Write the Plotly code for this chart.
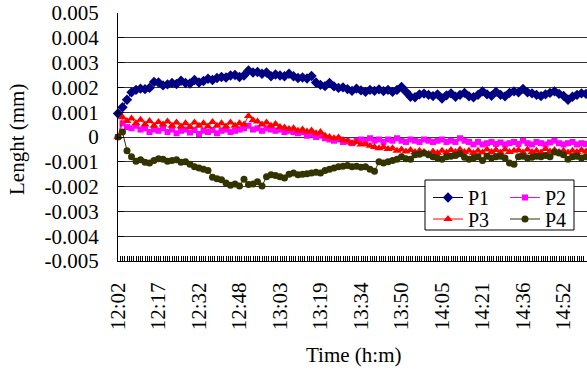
import plotly.graph_objects as go

# ---------------- data (values in 0.001 mm) ----------------
time_labels = ["12:02", "12:17", "12:32", "12:48", "13:03", "13:19",
               "13:34", "13:50", "14:05", "14:21", "14:36", "14:52"]
samples_per_label = 18      # readings between two labelled times
sample_step = 2             # every 2nd reading is plotted

p1_um = [0.95, 1.2, 1.5, 1.8, 1.9, 1.95, 1.93, 1.98, 2.22, 2.2,
         2.08, 2.12, 2.18, 2.14, 2.27, 2.18, 2.16, 2.3, 2.2, 2.26,
         2.35, 2.3, 2.38, 2.42, 2.4, 2.48, 2.5, 2.42, 2.48, 2.68,
         2.6, 2.62, 2.55, 2.6, 2.45, 2.52, 2.48, 2.45, 2.55, 2.45,
         2.38, 2.4, 2.36, 2.46, 2.2, 2.1, 2.05, 2.18, 2.04, 1.98,
         2.0, 1.93, 1.86, 1.95, 1.88, 1.82, 1.9, 1.86, 1.92, 1.85,
         1.9, 1.82, 1.9, 2.02, 1.82, 1.62, 1.6, 1.72, 1.75, 1.7,
         1.65, 1.72, 1.55, 1.68, 1.76, 1.62, 1.7, 1.78, 1.64, 1.6,
         1.7, 1.84, 1.72, 1.66, 1.82, 1.7, 1.64, 1.78, 1.84, 1.8,
         1.94, 1.8, 1.76, 1.7, 1.65, 1.72, 1.78, 1.84, 1.74, 1.66,
         1.5, 1.62, 1.7, 1.76, 1.74]

p2_um = [0.0, 0.55, 0.4, 0.35, 0.45, 0.3, 0.35, 0.2, 0.3, 0.25,
         0.35, 0.2, 0.3, 0.15, 0.25, 0.3, 0.18, 0.28, 0.12, 0.25,
         0.2, 0.28, 0.15, 0.25, 0.3, 0.2, 0.25, 0.3, 0.35, 0.45,
         0.3, 0.35, 0.25, 0.35, 0.3, 0.25, 0.3, 0.2, 0.25, 0.2,
         0.15, 0.2, 0.05, 0.1, 0.0, 0.05, -0.05, -0.1, -0.15, -0.1,
         -0.2, -0.18, -0.25, -0.15, -0.1, -0.15, -0.05, -0.15, -0.1, -0.2,
         -0.1, -0.15, -0.05, -0.15, -0.2, -0.1, -0.15, -0.2, -0.1, -0.15,
         -0.2, -0.15, -0.1, -0.2, -0.15, -0.2, -0.05, -0.15, -0.2, -0.3,
         -0.2, -0.3, -0.25, -0.2, -0.28, -0.22, -0.3, -0.25, -0.2, -0.28,
         -0.15, -0.25, -0.3, -0.2, -0.25, -0.3, -0.22, -0.15, -0.25, -0.3,
         -0.25, -0.2, -0.3, -0.25, -0.28]

p3_um = [0.0, 0.8, 0.65, 0.75, 0.55, 0.7, 0.5, 0.65, 0.45, 0.6,
         0.5, 0.62, 0.45, 0.58, 0.42, 0.55, 0.4, 0.58, 0.45, 0.55,
         0.42, 0.6, 0.45, 0.55, 0.42, 0.58, 0.45, 0.55, 0.5, 0.85,
         0.68, 0.62, 0.5, 0.58, 0.45, 0.52, 0.4, 0.38, 0.32, 0.35,
         0.25, 0.3, 0.22, 0.26, 0.15, 0.2, 0.05, 0.0, -0.05, -0.02,
         -0.12, -0.15, -0.25, -0.2, -0.3, -0.28, -0.35, -0.4, -0.45, -0.4,
         -0.48, -0.45, -0.55, -0.5, -0.58, -0.52, -0.6, -0.55, -0.6, -0.68,
         -0.58, -0.65, -0.55, -0.62, -0.52, -0.6, -0.5, -0.6, -0.55, -0.65,
         -0.55, -0.62, -0.5, -0.6, -0.52, -0.62, -0.5, -0.6, -0.55, -0.52,
         -0.62, -0.5, -0.6, -0.55, -0.62, -0.48, -0.58, -0.52, -0.6, -0.55,
         -0.62, -0.55, -0.6, -0.52, -0.58]

p4_um = [0.0, 0.2, -0.55, -0.8, -0.98, -0.92, -1.02, -1.05, -0.95, -0.88,
         -0.9, -0.98, -0.95, -0.92, -1.02, -1.0, -1.1, -1.2, -1.25, -1.3,
         -1.35, -1.62, -1.68, -1.72, -1.85, -1.95, -1.9, -1.98, -1.7, -1.92,
         -1.9, -1.8, -1.98, -1.6, -1.52, -1.55, -1.6, -1.65, -1.5, -1.45,
         -1.52, -1.5, -1.48, -1.45, -1.42, -1.45, -1.35, -1.3, -1.25, -1.2,
         -1.18, -1.15, -1.2, -1.18, -1.22, -1.2, -1.3, -1.38, -1.0, -1.05,
         -1.0, -0.95, -0.9, -0.8, -0.88, -0.9, -0.72, -0.7, -0.65, -0.72,
         -0.8, -0.85, -0.9, -0.8, -0.78, -0.75, -0.68, -0.82, -0.9, -0.85,
         -0.8, -0.95, -0.78, -0.85, -0.8, -0.78, -0.85, -1.05, -1.1, -0.8,
         -0.78, -0.85, -0.82, -0.78, -0.8, -0.75, -0.8, -0.6, -0.65, -0.72,
         -0.9, -0.8, -0.78, -0.85, -0.8]

y_tick_vals = [0.005, 0.004, 0.003, 0.002, 0.001, 0.0,
               -0.001, -0.002, -0.003, -0.004, -0.005]
y_tick_text = ["0.005", "0.004", "0.003", "0.002", "0.001", "0",
               "-0.001", "-0.002", "-0.003", "-0.004", "-0.005"]

# ---------------- layout geometry ----------------
W, H = 587, 370
ML, MR, MT, MB = 118, 0, 13, 109
PW, PH = W - ML - MR, H - MT - MB


def px_x(px):
    return (px - ML) / PW


def px_y(py):
    return (MT + PH - py) / PH


FONT = "Liberation Serif, Times New Roman, serif"

series = [
    ("P1", p1_um, "#000080", "diamond", 8, "legend"),
    ("P2", p2_um, "#FF00FF", "square", 6, "legend2"),
    ("P3", p3_um, "#FF0000", "triangle-up", 8, "legend3"),
    ("P4", p4_um, "#333300", "circle", 7, "legend4"),
]

fig = go.Figure()
for name, vals, color, sym, size, leg in series:
    xs = [i * sample_step for i in range(len(vals))]
    ys = [v / 1000.0 for v in vals]
    fig.add_trace(go.Scatter(
        x=xs, y=ys, name=name, mode="lines+markers",
        line=dict(color=color, width=1),
        marker=dict(symbol=sym, size=size, color=color,
                    line=dict(width=0)),
        cliponaxis=False, legend=leg,
    ))

n_samples = (W - ML) / (40.5 / samples_per_label)

legend_common = dict(bgcolor="rgba(0,0,0,0)", borderwidth=0,
                     font=dict(family=FONT, size=20, color="black"),
                     xanchor="left", yanchor="middle", itemwidth=30)

fig.update_layout(
    width=W, height=H,
    margin=dict(l=ML, r=MR, t=MT, b=MB, pad=0),
    paper_bgcolor="white", plot_bgcolor="white",
    font=dict(family=FONT, size=21, color="black"),
    showlegend=True,
    legend=dict(x=px_x(428), y=px_y(197.5), **legend_common),
    legend2=dict(x=px_x(505), y=px_y(197.5), **legend_common),
    legend3=dict(x=px_x(428), y=px_y(219), **legend_common),
    legend4=dict(x=px_x(505), y=px_y(219), **legend_common),
    xaxis=dict(
        range=[0, n_samples],
        tickmode="array",
        tickvals=[k * samples_per_label for k in range(len(time_labels))],
        ticktext=time_labels,
        tickangle=-90,
        ticks="inside", ticklen=5, tickcolor="black", tickwidth=1,
        ticklabelstandoff=12,
        minor=dict(tickmode="linear", tick0=0, dtick=1, ticks="inside",
                   ticklen=5, tickcolor="black", tickwidth=1, showgrid=False),
        showline=True, linecolor="black", linewidth=1,
        showgrid=False, zeroline=False,
        tickfont=dict(family=FONT, size=21, color="black"),
    ),
    yaxis=dict(
        range=[-0.005, 0.005],
        tickmode="array", tickvals=y_tick_vals, ticktext=y_tick_text,
        ticks="inside", ticklen=6, tickcolor="black",
        ticklabelstandoff=14,
        showline=True, linecolor="black", linewidth=1,
        showgrid=True, gridcolor="#333333", gridwidth=1,
        zeroline=False,
        tickfont=dict(family=FONT, size=21, color="black"),
    ),
    shapes=[dict(type="rect", xref="paper", yref="paper",
                 x0=px_x(425), x1=px_x(574), y0=px_y(230), y1=px_y(180),
                 line=dict(color="black", width=1), fillcolor="white",
                 layer="above")],
    annotations=[
        dict(text="Lenght (mm)", xref="paper", yref="paper",
             x=px_x(17), y=px_y(140), textangle=-90, showarrow=False,
             xanchor="center", yanchor="middle",
             font=dict(family=FONT, size=21, color="black")),
        dict(text="Time (h:m)", xref="paper", yref="paper",
             x=px_x(353), y=px_y(355), showarrow=False,
             xanchor="center", yanchor="middle",
             font=dict(family=FONT, size=21, color="black")),
    ],
)

fig.write_html("out.html")
